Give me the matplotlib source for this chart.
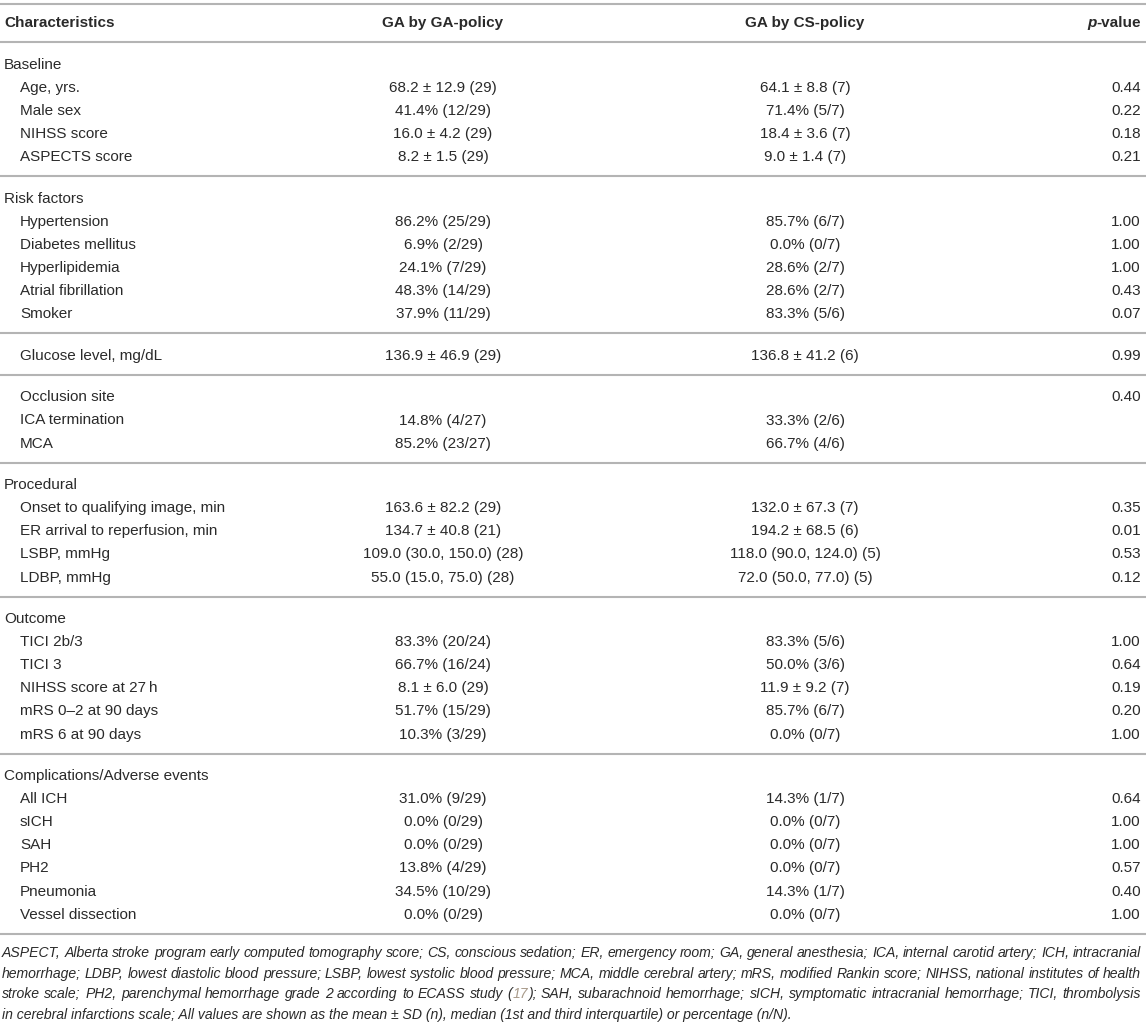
import matplotlib
matplotlib.use("Agg")
import matplotlib.pyplot as plt

# table contents
section_heads = ["Baseline", "Risk factors", "Procedural", "Outcome",
                 "Complications/Adverse events"]
group_sizes = [5, 6, 1, 3, 5, 6, 7]

labels = [
    "Baseline", "Age, yrs.", "Male sex", "NIHSS score", "ASPECTS score",
    "Risk factors", "Hypertension", "Diabetes mellitus", "Hyperlipidemia",
    "Atrial fibrillation", "Smoker",
    "Glucose level, mg/dL",
    "Occlusion site", "ICA termination", "MCA",
    "Procedural", "Onset to qualifying image, min", "ER arrival to reperfusion, min",
    "LSBP, mmHg", "LDBP, mmHg",
    "Outcome", "TICI 2b/3", "TICI 3", "NIHSS score at 27\u2009h",
    "mRS 0\u20132 at 90 days", "mRS 6 at 90 days",
    "Complications/Adverse events", "All ICH", "sICH", "SAH", "PH2",
    "Pneumonia", "Vessel dissection",
]
ga_policy = [
    "", "68.2 \u00b1 12.9 (29)", "41.4% (12/29)", "16.0 \u00b1 4.2 (29)", "8.2 \u00b1 1.5 (29)",
    "", "86.2% (25/29)", "6.9% (2/29)", "24.1% (7/29)", "48.3% (14/29)", "37.9% (11/29)",
    "136.9 \u00b1 46.9 (29)",
    "", "14.8% (4/27)", "85.2% (23/27)",
    "", "163.6 \u00b1 82.2 (29)", "134.7 \u00b1 40.8 (21)", "109.0 (30.0, 150.0) (28)",
    "55.0 (15.0, 75.0) (28)",
    "", "83.3% (20/24)", "66.7% (16/24)", "8.1 \u00b1 6.0 (29)", "51.7% (15/29)", "10.3% (3/29)",
    "", "31.0% (9/29)", "0.0% (0/29)", "0.0% (0/29)", "13.8% (4/29)", "34.5% (10/29)",
    "0.0% (0/29)",
]
cs_policy = [
    "", "64.1 \u00b1 8.8 (7)", "71.4% (5/7)", "18.4 \u00b1 3.6 (7)", "9.0 \u00b1 1.4 (7)",
    "", "85.7% (6/7)", "0.0% (0/7)", "28.6% (2/7)", "28.6% (2/7)", "83.3% (5/6)",
    "136.8 \u00b1 41.2 (6)",
    "", "33.3% (2/6)", "66.7% (4/6)",
    "", "132.0 \u00b1 67.3 (7)", "194.2 \u00b1 68.5 (6)", "118.0 (90.0, 124.0) (5)",
    "72.0 (50.0, 77.0) (5)",
    "", "83.3% (5/6)", "50.0% (3/6)", "11.9 \u00b1 9.2 (7)", "85.7% (6/7)", "0.0% (0/7)",
    "", "14.3% (1/7)", "0.0% (0/7)", "0.0% (0/7)", "0.0% (0/7)", "14.3% (1/7)",
    "0.0% (0/7)",
]
p_values = [
    "", "0.44", "0.22", "0.18", "0.21",
    "", "1.00", "1.00", "1.00", "0.43", "0.07",
    "0.99",
    "0.40", "", "",
    "", "0.35", "0.01", "0.53", "0.12",
    "", "1.00", "0.64", "0.19", "0.20", "1.00",
    "", "0.64", "1.00", "1.00", "0.57", "0.40", "1.00",
]

footnote_lines = [
    "ASPECT, Alberta stroke program early computed tomography score; CS, conscious sedation; "
    "ER, emergency room; GA, general anesthesia; ICA, internal carotid artery; ICH, intracranial",
    "hemorrhage; LDBP, lowest diastolic blood pressure; LSBP, lowest systolic blood pressure; "
    "MCA, middle cerebral artery; mRS, modified Rankin score; NIHSS, national institutes of health",
    "stroke scale; PH2, parenchymal hemorrhage grade 2 according to ECASS study (17); "
    "SAH, subarachnoid hemorrhage; sICH, symptomatic intracranial hemorrhage; TICI, thrombolysis",
    "in cerebral infarctions scale; All values are shown as the mean \u00b1 SD (n), "
    "median (1st and third interquartile) or percentage (n/N).",
]

W, H = 1146, 1024
txt_color = "#2a2a2a"
rule_color = "#b4b4b4"
link_color = "#a89a8a"
font = "Liberation Sans"
fs = 11.0
foot_fs = 10.1

plt.rcParams["font.family"] = [font, "DejaVu Sans"]

fig = plt.figure(figsize=(W / 100, H / 100), dpi=100)
ax = fig.add_axes([0, 0, 1, 1])
ax.set_xlim(0, W)
ax.set_ylim(H, 0)
ax.axis("off")

x_label, x_indent = 4, 20
x_ga, x_cs, x_p = 443, 805, 1141


def rule(y):
    ax.plot([0, W], [y, y], color=rule_color, lw=1.5, solid_capstyle="butt")


# header
rule(4)
hy = 23
ax.text(x_label, hy, "Characteristics", fontsize=fs, fontweight="bold",
        color=txt_color, va="center", ha="left")
ax.text(x_ga, hy, "GA by GA-policy", fontsize=fs, fontweight="bold",
        color=txt_color, va="center", ha="center")
ax.text(x_cs, hy, "GA by CS-policy", fontsize=fs, fontweight="bold",
        color=txt_color, va="center", ha="center")
renderer = fig.canvas.get_renderer()
t_val = ax.text(x_p, hy, "-value", fontsize=fs, fontweight="bold",
                color=txt_color, va="center", ha="right")
val_w = t_val.get_window_extent(renderer).width
ax.text(x_p - val_w, hy, "p", fontsize=fs, fontweight="bold", style="italic",
        color=txt_color, va="center", ha="right")
rule(42)

# body rows
step, gap_above_rule, gap_below_rule = 23.1, 19.0, 22.5
y = 65.0
i = 0
for size in group_sizes:
    for k in range(size):
        lab = labels[i]
        xl = x_label if lab in section_heads else x_indent
        ax.text(xl, y, lab, fontsize=fs, color=txt_color, va="center", ha="left")
        ax.text(x_ga, y, ga_policy[i], fontsize=fs, color=txt_color, va="center", ha="center")
        ax.text(x_cs, y, cs_policy[i], fontsize=fs, color=txt_color, va="center", ha="center")
        ax.text(x_p, y, p_values[i], fontsize=fs, color=txt_color, va="center", ha="right")
        i += 1
        if k < size - 1:
            y += step
    y += gap_above_rule
    rule(y)
    y += gap_below_rule

# footnote, justified like the journal layout
foot_y0, foot_step = 953, 20.7
fkw = dict(fontsize=foot_fs, style="italic", va="center", ha="left")


def word_pieces(word):
    if "(17)" in word:
        a, b = word.split("17")
        return [(a, txt_color), ("17", link_color), (b, txt_color)]
    return [(word, txt_color)]


for li, line in enumerate(footnote_lines):
    ly = foot_y0 + li * foot_step
    if li == len(footnote_lines) - 1:
        ax.text(2, ly, line, color=txt_color, **fkw)
        continue
    words = line.split(" ")
    groups = []
    for w in words:
        parts = []
        for s, c in word_pieces(w):
            t = ax.text(0, ly, s, color=c, **fkw)
            parts.append((t, t.get_window_extent(renderer).width))
        groups.append(parts)
    total = sum(wd for g in groups for _, wd in g)
    gap = (x_p - 2 - total) / (len(groups) - 1)
    x = 2
    for g in groups:
        for t, wd in g:
            t.set_x(x)
            x += wd
        x += gap

fig.savefig("out.png", dpi=100)
